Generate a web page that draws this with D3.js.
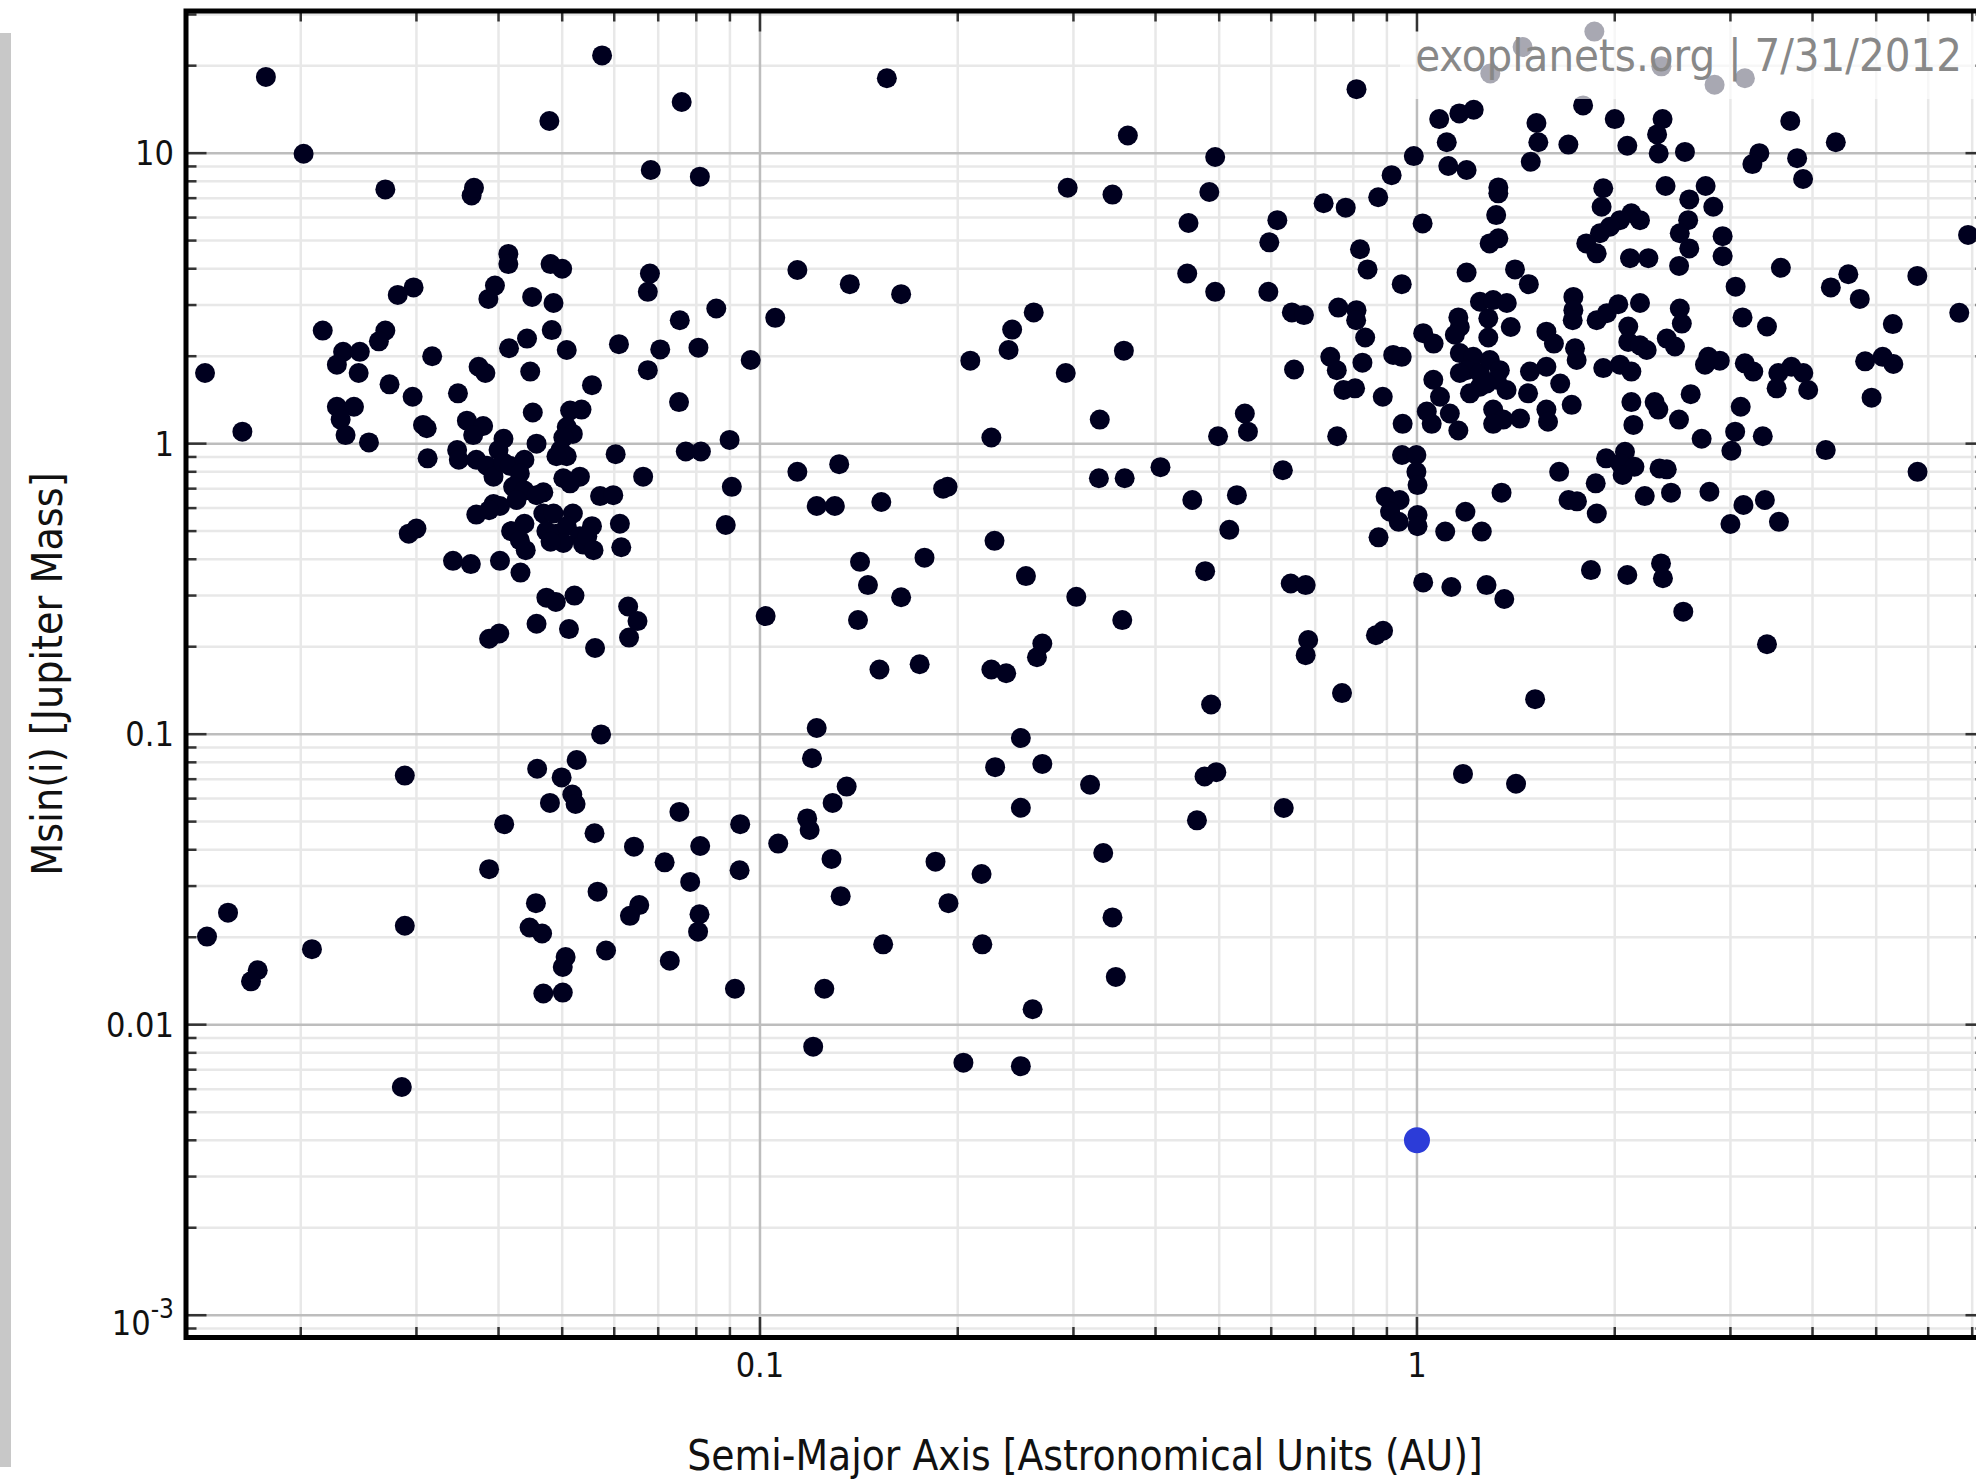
<!DOCTYPE html>
<html>
<head>
<meta charset="utf-8">
<script src="https://cdn.jsdelivr.net/npm/d3@7"></script>
<style>
  body { margin: 0; background: #fff; }
  svg { display: block; font-family: "DejaVu Sans Condensed", "DejaVu Sans", sans-serif; font-stretch: condensed; }
</style>
</head>
<body>
<svg width="1976" height="1482"></svg>
<script>
  // semi-major axis (AU) and Msin(i) (Jupiter masses)
  const semiMajorAxis = [
    0.0143, 0.0163, 0.0177, 0.0202, 0.0269, 0.0364, 0.0367, 0.0478, 0.0575,
    0.0414, 0.0414, 0.048, 0.05, 0.0395, 0.0386, 0.045, 0.0485, 0.0297, 0.0281,
    0.0216, 0.0269, 0.0263, 0.0232, 0.0246, 0.0227, 0.0245, 0.0317, 0.0273, 0.0296,
    0.0347, 0.0373, 0.0382, 0.0415, 0.0442, 0.0482, 0.0508, 0.0447, 0.061, 0.0555,
    0.068, 0.0675, 0.0675, 0.0227, 0.0241, 0.023, 0.0234, 0.0254, 0.0307, 0.0311,
    0.0358, 0.0379, 0.0366, 0.0312, 0.0346, 0.0348, 0.0451, 0.0514, 0.0535, 0.0508,
    0.0519, 0.0502, 0.0407, 0.04, 0.0457, 0.0497, 0.0508, 0.049, 0.0603, 0.0664,
    0.037, 0.0384, 0.0393, 0.0407, 0.0416, 0.0438, 0.0431, 0.0502, 0.0532, 0.0514,
    0.0421, 0.0438, 0.0426, 0.0468, 0.0457, 0.0393, 0.0402, 0.0387, 0.037, 0.0571,
    0.0598, 0.0418, 0.0438, 0.0431, 0.044, 0.0468, 0.0485, 0.0473, 0.049, 0.0519,
    0.0508, 0.0532, 0.0502, 0.048, 0.0538, 0.0555, 0.0546, 0.0558, 0.0612, 0.0615,
    0.0292, 0.03, 0.0341, 0.0363, 0.0402, 0.0432, 0.0473, 0.0489, 0.0522, 0.0457,
    0.0512, 0.0387, 0.0401, 0.0561, 0.063, 0.0651, 0.0632,
    0.076, 0.0682, 0.081, 0.156, 0.363, 0.493, 0.294, 0.344, 0.483, 0.449,
    0.447, 0.493, 0.0755, 0.0858, 0.0705, 0.0806, 0.0753, 0.0968, 0.1055, 0.114,
    0.137, 0.164, 0.261, 0.242, 0.239, 0.209, 0.292, 0.358, 0.329, 0.225,
    0.498, 0.0899, 0.0771, 0.0813, 0.0906, 0.0887, 0.114, 0.132, 0.122, 0.130,
    0.153, 0.190, 0.193, 0.328, 0.359, 0.407, 0.455, 0.532, 0.518, 0.476,
    0.2275, 0.142, 0.178, 0.146, 0.254, 0.164, 0.303, 0.102, 0.356, 0.141,
    0.152, 0.175, 0.225, 0.237, 0.264, 0.269, 0.0573, 0.122, 0.2495, 0.0288,
    0.0458, 0.0526, 0.0499, 0.0518, 0.0524, 0.0479, 0.0408, 0.056, 0.120, 0.1355,
    0.129, 0.118, 0.119, 0.0933, 0.0754, 0.1066, 0.0811, 0.0643, 0.0716, 0.0931,
    0.0783, 0.0387, 0.1285, 0.1327, 0.185, 0.2174, 0.228, 0.269, 0.318, 0.2495,
    0.333, 0.1936, 0.344, 0.0566, 0.0456, 0.0655, 0.0634, 0.0809, 0.0805, 0.0446,
    0.0466, 0.0288, 0.0155, 0.0144, 0.0208, 0.0172, 0.0168, 0.0506, 0.0501, 0.0583,
    0.0729, 0.0468, 0.0501, 0.0916, 0.1253, 0.154, 0.218, 0.348, 0.26, 0.1205,
    0.204, 0.2495, 0.0285,
    0.486, 0.475, 0.495, 0.4625, 0.627, 0.769, 1.175, 1.415, 1.513,
    0.809, 1.081, 1.16, 1.22, 1.11, 0.989, 1.116, 1.19, 1.52, 1.53,
    1.49, 1.70, 1.79, 0.915, 0.873, 0.721, 0.779, 0.613, 0.596, 1.02,
    1.33, 1.33, 1.32, 1.33, 1.29, 0.819, 0.841, 0.948, 1.19, 1.41,
    1.48, 0.594, 0.645, 0.673, 0.759, 0.809, 0.808, 0.834, 0.738, 0.755,
    0.773, 0.805, 0.826, 0.650, 0.920, 0.948, 0.887, 0.951, 0.756, 0.547,
    0.553, 1.022, 1.06, 1.156, 1.162, 1.142, 1.247, 1.306, 1.37, 1.284,
    1.284, 1.389, 1.162, 1.218, 1.19, 1.162, 1.247, 1.291, 1.337, 1.322,
    1.369, 1.247, 1.204, 1.276, 1.059, 1.084, 1.035, 1.122, 1.053, 1.156,
    1.306, 1.353, 1.435, 1.306, 1.486, 1.574, 1.652, 1.476, 1.574, 1.616,
    1.73, 1.73, 1.726, 1.74, 1.75, 1.574, 1.583, 1.72, 1.877, 1.945,
    1.921, 1.921, 1.91, 1.899, 1.81, 1.877,
    2.0, 2.365, 2.32, 2.333, 2.09, 2.558, 3.70, 3.32, 3.24, 3.79,
    3.87, 4.34, 2.39, 2.75, 2.825, 2.597, 2.12, 2.185, 2.037, 1.966,
    2.587, 2.512, 2.597, 2.506, 2.919, 2.919, 2.11, 2.25, 3.58, 3.055,
    4.535, 4.265, 4.72, 5.775, 6.90, 6.69, 5.30, 2.025, 2.185, 2.097,
    2.097, 2.185, 2.237, 2.512, 2.53, 2.40, 2.47, 3.13, 3.41, 2.037,
    2.12, 2.776, 2.89, 2.744, 3.155, 3.25, 3.548, 3.715, 3.873, 3.94,
    3.527, 4.81, 5.115, 5.31, 4.92, 2.12, 2.30, 2.33, 2.61, 2.135,
    2.505, 3.11, 3.05, 3.36, 2.712,
    0.625, 0.949, 0.998, 0.998, 1.002, 0.896, 0.941, 0.910, 0.938, 1.002,
    1.002, 0.874, 1.104, 1.185, 1.255, 1.345, 1.646, 1.871, 1.701, 1.752,
    1.878, 1.94, 2.073, 2.039, 2.143, 2.056, 2.34, 2.40, 2.222, 2.436,
    2.787, 3.01, 4.19, 5.78, 3.14, 3.385, 3.0, 3.556, 0.6425, 0.677,
    1.022, 1.128, 1.276, 1.358, 1.84, 2.09, 2.352, 2.368, 2.543, 0.866,
    0.888, 0.683, 0.677, 3.41,
    1.862, 1.293, 1.448, 2.355, 2.838, 3.156
  ];
  const massJupiter = [
    1.75, 1.10, 18.3, 9.95, 7.5, 7.15, 7.6, 12.9, 21.7,
    4.5, 4.15, 4.15, 4.0, 3.5, 3.15, 3.2, 3.05, 3.45, 3.25,
    2.45, 2.45, 2.25, 2.07, 2.07, 1.87, 1.75, 2.0, 1.6, 1.45,
    1.49, 1.84, 1.75, 2.13, 2.3, 2.46, 2.1, 1.77, 2.2, 1.59,
    3.85, 3.33, 1.79, 1.34, 1.34, 1.21, 1.07, 1.01, 1.16, 1.13,
    1.2, 1.15, 1.07, 0.89, 0.95, 0.88, 1.28, 1.3, 1.31, 1.14,
    1.08, 1.05, 1.04, 0.95, 1.0, 0.95, 0.905, 0.905, 0.92, 0.77,
    0.88, 0.84, 0.77, 0.86, 0.84, 0.88, 0.79, 0.76, 0.77, 0.73,
    0.71, 0.69, 0.64, 0.68, 0.665, 0.62, 0.61, 0.59, 0.57, 0.66,
    0.665, 0.5, 0.53, 0.465, 0.43, 0.575, 0.575, 0.5, 0.49, 0.575,
    0.52, 0.48, 0.455, 0.46, 0.45, 0.52, 0.48, 0.43, 0.53, 0.44,
    0.49, 0.51, 0.395, 0.385, 0.395, 0.36, 0.295, 0.285, 0.3, 0.24,
    0.23, 0.213, 0.222, 0.198, 0.275, 0.245, 0.215,
    15.0, 8.75, 8.3, 18.1, 11.5, 9.7, 7.6, 7.2, 7.35, 5.75,
    3.85, 3.33, 2.66, 2.92, 2.11, 2.14, 1.39, 1.94, 2.71, 3.96,
    3.54, 3.27, 2.83, 2.47, 2.10, 1.93, 1.75, 2.09, 1.21, 1.05,
    1.06, 1.03, 0.94, 0.94, 0.71, 0.525, 0.80, 0.85, 0.61, 0.61,
    0.63, 0.70, 0.71, 0.76, 0.76, 0.83, 0.64, 0.665, 0.505, 0.364,
    0.463, 0.392, 0.405, 0.326, 0.35, 0.296, 0.297, 0.255, 0.247, 0.247,
    0.167, 0.174, 0.167, 0.162, 0.184, 0.205, 0.0998, 0.105, 0.097, 0.072,
    0.076, 0.0815, 0.071, 0.062, 0.0575, 0.058, 0.049, 0.0456, 0.0826, 0.066,
    0.058, 0.0513, 0.0468, 0.049, 0.054, 0.042, 0.0412, 0.041, 0.0362, 0.034,
    0.031, 0.0343, 0.0372, 0.0277, 0.0364, 0.033, 0.077, 0.079, 0.067, 0.0558,
    0.039, 0.0262, 0.0234, 0.0287, 0.0262, 0.0258, 0.0237, 0.024, 0.0209, 0.0216,
    0.0206, 0.0219, 0.0243, 0.0201, 0.0182, 0.0154, 0.0141, 0.0171, 0.0158, 0.018,
    0.0166, 0.0128, 0.0129, 0.0133, 0.0133, 0.0189, 0.0189, 0.0146, 0.0113, 0.0084,
    0.0074, 0.0072, 0.0061,
    0.1265, 0.0715, 0.074, 0.0505, 0.0557, 0.1385, 0.073, 0.0675, 0.132,
    16.6, 13.1, 13.7, 14.1, 10.9, 9.77, 9.03, 8.75, 12.7, 10.9,
    9.34, 10.7, 14.6, 8.4, 7.05, 6.72, 6.49, 5.88, 4.93, 5.73,
    7.62, 7.27, 6.12, 5.09, 4.89, 4.67, 3.98, 3.54, 3.88, 3.98,
    3.54, 3.33, 2.83, 2.77, 2.94, 2.88, 2.66, 2.32, 1.99, 1.79,
    1.53, 1.55, 1.90, 1.80, 2.02, 1.99, 1.45, 1.17, 1.06, 1.27,
    1.10, 2.40, 2.21, 2.72, 2.52, 2.37, 3.08, 3.12, 3.05, 2.70,
    2.32, 2.52, 2.05, 1.99, 1.79, 1.75, 1.75, 1.94, 1.79, 1.66,
    1.53, 1.57, 1.49, 1.61, 1.66, 1.45, 1.29, 1.27, 1.17, 1.11,
    1.31, 1.21, 1.22, 1.17, 1.77, 1.84, 1.61, 1.49, 2.43, 2.21,
    3.20, 2.88, 2.66, 2.13, 1.94, 1.31, 1.19, 1.36, 2.66, 2.81,
    1.82, 7.57, 6.54, 5.30, 4.89, 4.52,
    13.1, 13.1, 11.6, 9.98, 10.6, 10.1, 12.9, 10.0, 9.17, 9.61,
    8.15, 10.9, 7.71, 7.71, 6.54, 6.93, 6.21, 5.88, 5.88, 5.58,
    5.88, 5.30, 4.70, 4.09, 5.18, 4.42, 4.35, 4.35, 4.03, 3.47,
    3.83, 3.45, 3.15, 3.78, 5.23, 2.82, 2.58, 3.02, 3.05, 2.53,
    2.24, 2.18, 2.10, 2.92, 2.59, 2.30, 2.16, 2.72, 2.53, 1.87,
    1.77, 1.99, 1.93, 1.87, 1.89, 1.77, 1.75, 1.84, 1.75, 1.53,
    1.55, 1.92, 1.99, 1.88, 1.44, 1.39, 1.39, 1.31, 1.48, 1.16,
    1.21, 1.34, 1.10, 1.06, 1.04,
    0.81, 0.914, 0.914, 0.80, 0.72, 0.656, 0.64, 0.583, 0.538, 0.568,
    0.52, 0.476, 0.498, 0.583, 0.498, 0.678, 0.80, 0.73, 0.64, 0.633,
    0.575, 0.89, 0.938, 0.855, 0.833, 0.78, 0.822, 0.816, 0.66, 0.678,
    0.683, 0.945, 0.95, 0.80, 0.615, 0.64, 0.529, 0.538, 0.33, 0.326,
    0.333, 0.321, 0.326, 0.292, 0.367, 0.353, 0.387, 0.344, 0.264, 0.219,
    0.227, 0.211, 0.187, 0.204,
    26.2, 18.8, 23.2, 19.9, 17.2, 18.1
  ];
  const highlightAxis = [1.0];
  const highlightMass = [0.004];

  const xTickValues = [0.1, 1];
  const xTickLabels = ["0.1", "1"];
  const yTickValues = [10, 1, 0.1, 0.01, 0.001];
  const yTickLabels = ["10", "1", "0.1", "0.01", "10|-3"];
  const xTitle = "Semi-Major Axis [Astronomical Units (AU)]";
  const yTitle = "Msin(i) [Jupiter Mass]";
  const watermark = "exoplanets.org | 7/31/2012";

  const svg = d3.select("svg");
  const plot = { left: 186, right: 1986, top: 11, bottom: 1337.5 };

  const x = d3.scaleLog().domain([0.013377, 7.347]).range([plot.left, plot.right]);
  const y = d3.scaleLog().domain([0.000838, 30.85]).range([plot.bottom, plot.top]);

  const isMajor = v => Math.abs(Math.log10(v) - Math.round(Math.log10(v))) < 1e-6;
  const xGrid = x.ticks().filter(v => v > x.domain()[0] && v < x.domain()[1]);
  const yGrid = y.ticks().filter(v => v > y.domain()[0] && v < y.domain()[1]);

  // left grey strip
  svg.append("rect").attr("x", 0).attr("y", 33).attr("width", 11).attr("height", 1434).attr("fill", "#c8c8c8");

  const grid = svg.append("g");
  const drawGrid = major => {
    grid.selectAll(null).data(xGrid.filter(v => isMajor(v) === major)).enter().append("line")
      .attr("x1", d => x(d)).attr("x2", d => x(d))
      .attr("y1", plot.top).attr("y2", plot.bottom)
      .attr("stroke", major ? "#bdbdbd" : "#e8e8e8").attr("stroke-width", 2.5);
    grid.selectAll(null).data(yGrid.filter(v => isMajor(v) === major)).enter().append("line")
      .attr("y1", d => y(d)).attr("y2", d => y(d))
      .attr("x1", plot.left).attr("x2", plot.right)
      .attr("stroke", major ? "#bdbdbd" : "#e8e8e8").attr("stroke-width", 2.5);
  };
  drawGrid(false);
  drawGrid(true);

  const points = semiMajorAxis.map((a, i) => ({ a, m: massJupiter[i] }));
  svg.append("g").selectAll("circle").data(points).enter().append("circle")
    .attr("cx", d => x(d.a)).attr("cy", d => y(d.m)).attr("r", 10)
    .attr("fill", "#00001f");

  svg.append("g").selectAll("circle").data(highlightAxis.map((a, i) => ({ a, m: highlightMass[i] })))
    .enter().append("circle")
    .attr("cx", d => x(d.a)).attr("cy", d => y(d.m)).attr("r", 13)
    .attr("fill", "#2c3cd8");

  // watermark with translucent backing
  svg.append("rect").attr("x", 1400).attr("y", plot.top).attr("width", 600).attr("height", 88)
    .attr("fill", "#fff").attr("fill-opacity", 0.66);
  svg.append("text").attr("x", 1962).attr("y", 71).attr("text-anchor", "end")
    .attr("font-size", 45).attr("fill", "#888").text(watermark);

  // ticks (inside the frame, on all four sides)
  const ticks = svg.append("g").attr("stroke", "#333").attr("stroke-width", 2.5);
  const tlen = v => isMajor(v) ? 18 : 8;
  ticks.selectAll(null).data(yGrid).enter().append("line")
    .attr("x1", plot.left).attr("x2", d => plot.left + 2.5 + tlen(d))
    .attr("y1", d => y(d)).attr("y2", d => y(d));
  ticks.selectAll(null).data(yGrid).enter().append("line")
    .attr("x1", plot.right).attr("x2", d => plot.right - 2.5 - tlen(d))
    .attr("y1", d => y(d)).attr("y2", d => y(d));
  ticks.selectAll(null).data(xGrid).enter().append("line")
    .attr("y1", plot.bottom).attr("y2", d => plot.bottom - 2.5 - tlen(d))
    .attr("x1", d => x(d)).attr("x2", d => x(d));
  ticks.selectAll(null).data(xGrid).enter().append("line")
    .attr("y1", plot.top).attr("y2", d => plot.top + 2.5 + tlen(d))
    .attr("x1", d => x(d)).attr("x2", d => x(d));

  // frame
  svg.append("rect")
    .attr("x", plot.left).attr("y", plot.top)
    .attr("width", plot.right - plot.left).attr("height", plot.bottom - plot.top)
    .attr("fill", "none").attr("stroke", "#000").attr("stroke-width", 5);

  // tick labels
  const yLab = svg.append("g").attr("font-size", 34).attr("fill", "#111").attr("text-anchor", "end");
  yTickValues.forEach((v, i) => {
    const parts = yTickLabels[i].split("|");
    const t = yLab.append("text").attr("x", 174).attr("y", y(v) + (parts.length > 1 ? 20 : 12));
    t.append("tspan").text(parts[0]);
    if (parts.length > 1) t.append("tspan").attr("dy", -17).attr("font-size", 26).text(parts[1]);
  });
  svg.append("g").attr("font-size", 34).attr("fill", "#111").attr("text-anchor", "middle")
    .selectAll("text").data(xTickValues).enter().append("text")
    .attr("x", d => x(d)).attr("y", 1377)
    .text((d, i) => xTickLabels[i]);

  // axis titles
  svg.append("text").attr("x", 1085).attr("y", 1470).attr("text-anchor", "middle")
    .attr("font-size", 42).attr("fill", "#111").text(xTitle);
  svg.append("text").attr("transform", "translate(62,674) rotate(-90)").attr("text-anchor", "middle")
    .attr("font-size", 42.5).attr("fill", "#111").text(yTitle);
</script>
</body>
</html>
